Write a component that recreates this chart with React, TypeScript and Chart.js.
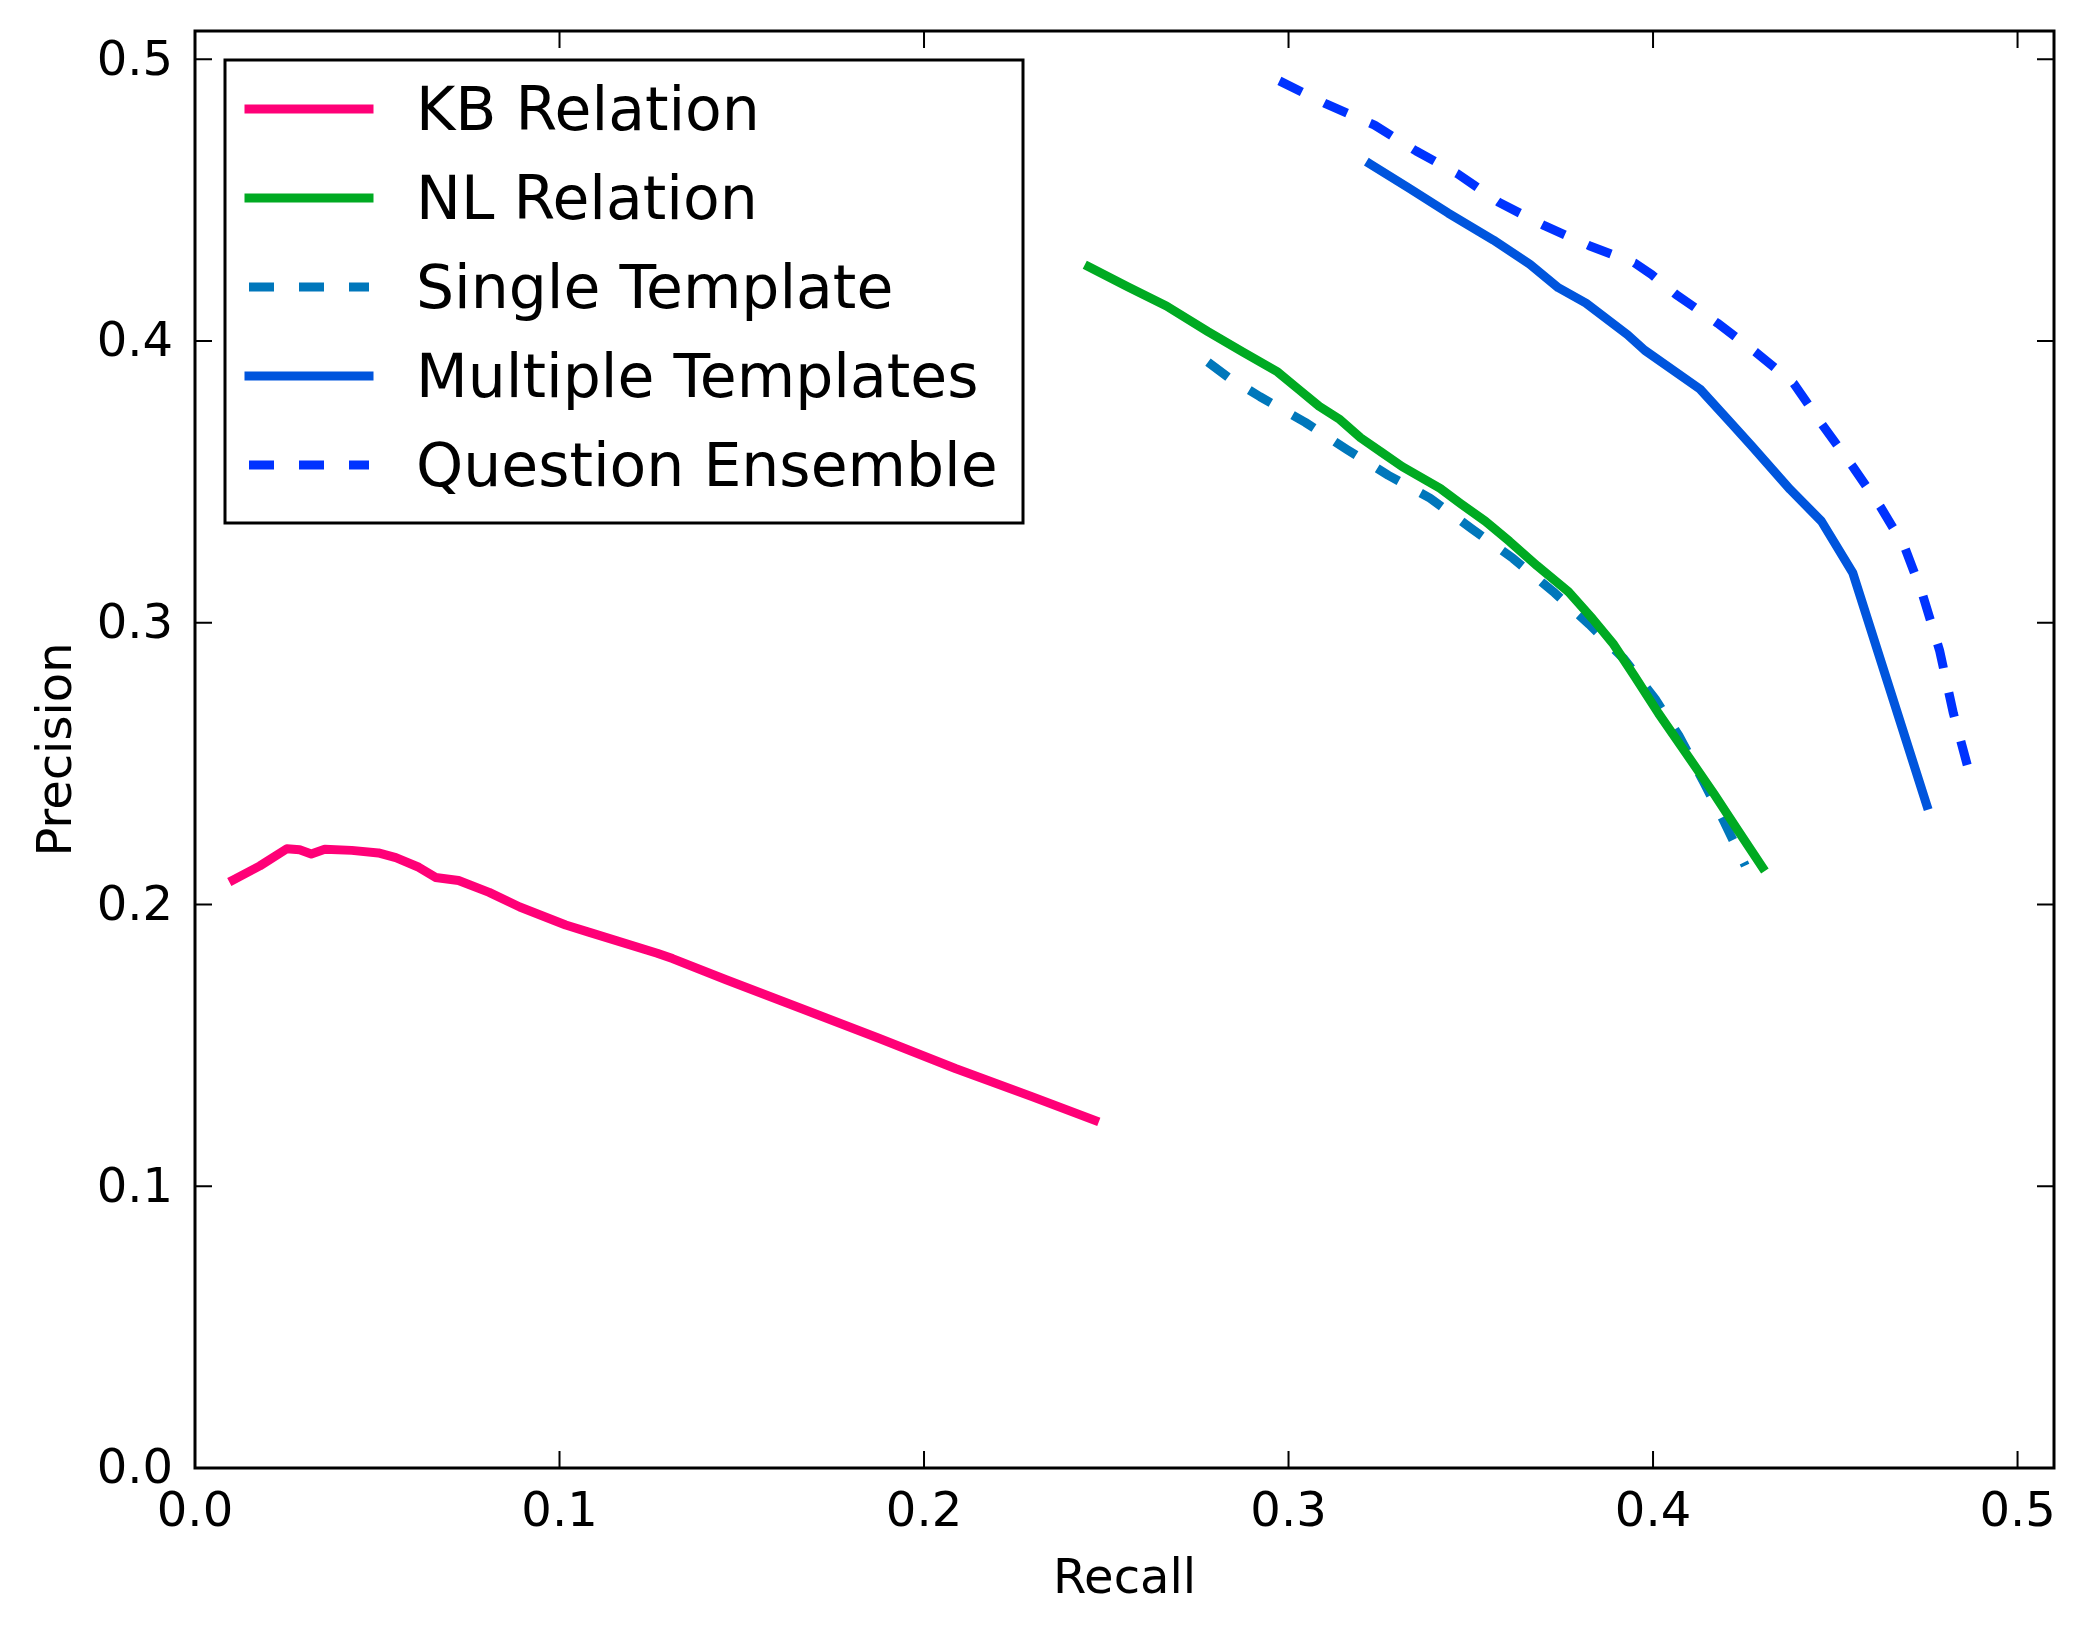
import React, { useEffect, useRef } from 'react';
import { Chart, registerables } from 'chart.js';

Chart.register(...registerables);

const FONT = '"DejaVu Sans", sans-serif';

// Recall / precision readings per model
const kbRecall = [0.0105, 0.0178, 0.0252, 0.0287, 0.0319, 0.0356, 0.043, 0.0503, 0.0551, 0.0614, 0.066, 0.0723, 0.0807, 0.0891, 0.1017, 0.108, 0.1268, 0.131, 0.1457, 0.1667, 0.1876, 0.2086, 0.2296, 0.2468];
const kbPrecision = [0.2087, 0.2137, 0.2198, 0.2194, 0.2179, 0.2196, 0.2192, 0.2183, 0.2166, 0.2132, 0.2096, 0.2085, 0.2043, 0.1991, 0.1927, 0.1902, 0.1827, 0.1808, 0.1733, 0.1629, 0.1525, 0.1418, 0.1318, 0.1234];

const nlRecall = [0.2452, 0.256, 0.2665, 0.2779, 0.2874, 0.297, 0.3027, 0.3084, 0.3141, 0.3198, 0.3255, 0.3312, 0.3416, 0.3473, 0.354, 0.3606, 0.3682, 0.3768, 0.3834, 0.3892, 0.3949, 0.4015, 0.4091, 0.4167, 0.4234, 0.43];
const nlPrecision = [0.4263, 0.4191, 0.4124, 0.4033, 0.3961, 0.389, 0.3829, 0.3768, 0.3721, 0.3656, 0.3605, 0.3554, 0.3477, 0.3422, 0.336, 0.3289, 0.3202, 0.311, 0.3014, 0.2923, 0.2811, 0.2678, 0.2536, 0.2393, 0.2261, 0.2132];

const singleRecall = [0.2779, 0.2836, 0.2922, 0.3046, 0.316, 0.3274, 0.3388, 0.3502, 0.3616, 0.373, 0.3825, 0.392, 0.4006, 0.4072, 0.4139, 0.4196, 0.4253];
const singlePrecision = [0.3925, 0.387, 0.3802, 0.3711, 0.3615, 0.3523, 0.3442, 0.3334, 0.3228, 0.3106, 0.2994, 0.2872, 0.2729, 0.2597, 0.2434, 0.2291, 0.2138];

const multiRecall = [0.3224, 0.3331, 0.3438, 0.3562, 0.3662, 0.374, 0.3816, 0.393, 0.3977, 0.4129, 0.4215, 0.4272, 0.4376, 0.4462, 0.4548, 0.4751];
const multiPrecision = [0.4628, 0.4542, 0.4454, 0.4358, 0.4272, 0.4189, 0.4134, 0.4022, 0.3967, 0.3829, 0.3707, 0.3625, 0.3473, 0.336, 0.3177, 0.2352];

const ensembleRecall = [0.2975, 0.3103, 0.3236, 0.335, 0.3464, 0.3578, 0.3702, 0.3825, 0.3949, 0.3996, 0.4063, 0.4177, 0.4281, 0.4386, 0.4462, 0.4548, 0.4624, 0.469, 0.4738, 0.4786, 0.4824, 0.4862];
const ensemblePrecision = [0.4923, 0.4841, 0.4766, 0.4674, 0.4593, 0.4491, 0.4409, 0.4338, 0.4277, 0.4236, 0.4165, 0.4063, 0.3961, 0.3849, 0.3707, 0.3554, 0.3411, 0.3269, 0.3106, 0.2902, 0.2678, 0.2495];

const seriesLabels = ['KB Relation', 'NL Relation', 'Single Template', 'Multiple Templates', 'Question Ensemble'];

const xTicks = [0, 0.1, 0.2, 0.3, 0.4, 0.5];
const xTickLabels = ['0.0', '0.1', '0.2', '0.3', '0.4', '0.5'];
const yTicks = [0, 0.1, 0.2, 0.3, 0.4, 0.5];
const yTickLabels = ['0.0', '0.1', '0.2', '0.3', '0.4', '0.5'];

const toPoints = (xs: number[], ys: number[]) => xs.map((x, i) => ({ x, y: ys[i] }));

// inward ticks on all four sides, the box frame and the legend inside the plot
const framePlugin = {
  id: 'mplFrame',
  afterDatasetsDraw(chart: any) {
    const { ctx, chartArea, scales } = chart;
    const { left, right, top, bottom } = chartArea;
    ctx.save();
    ctx.strokeStyle = '#000';
    ctx.lineWidth = 2;
    ctx.setLineDash([]);
    const tl = 17;
    ctx.beginPath();
    xTicks.forEach((v) => {
      const px = scales.x.getPixelForValue(v);
      ctx.moveTo(px, bottom);
      ctx.lineTo(px, bottom - tl);
      ctx.moveTo(px, top);
      ctx.lineTo(px, top + tl);
    });
    yTicks.forEach((v) => {
      const py = scales.y.getPixelForValue(v);
      ctx.moveTo(left, py);
      ctx.lineTo(left + tl, py);
      ctx.moveTo(right, py);
      ctx.lineTo(right - tl, py);
    });
    ctx.stroke();

    ctx.lineWidth = 3;
    ctx.strokeRect(left, top, right - left, bottom - top);

    // legend
    const bx = left + 30;
    const by = top + 29;
    ctx.fillStyle = '#fff';
    ctx.fillRect(bx, by, 798, 463);
    ctx.strokeRect(bx, by, 798, 463);
    ctx.font = `60px ${FONT}`;
    ctx.textBaseline = 'middle';
    ctx.textAlign = 'left';
    chart.data.datasets.forEach((ds: any, i: number) => {
      const ry = by + 49 + i * 89;
      const dash = ds.borderDash || [];
      ctx.strokeStyle = ds.borderColor;
      ctx.lineWidth = 9;
      ctx.setLineDash(dash);
      ctx.lineCap = dash.length ? 'butt' : 'square';
      ctx.beginPath();
      ctx.moveTo(bx + 24, ry);
      ctx.lineTo(bx + 144, ry);
      ctx.stroke();
      ctx.fillStyle = '#000';
      ctx.fillText(ds.label, bx + 191, ry + 5);
    });
    ctx.restore();
  },
};

export default function App() {
  const chartRef = useRef<HTMLCanvasElement>(null);
  const chartInstance = useRef<Chart | null>(null);

  useEffect(() => {
    if (!chartRef.current) return;
    if (chartInstance.current) chartInstance.current.destroy();
    const ctx = chartRef.current.getContext('2d');
    if (!ctx) return;

    const common = { pointRadius: 0, borderWidth: 9, tension: 0, fill: false, borderJoinStyle: 'round' as const };

    chartInstance.current = new Chart(ctx, {
      type: 'line',
      data: {
        datasets: [
          { ...common, label: seriesLabels[0], data: toPoints(kbRecall, kbPrecision), borderColor: '#ff0077', borderCapStyle: 'square' },
          { ...common, label: seriesLabels[1], data: toPoints(nlRecall, nlPrecision), borderColor: '#00aa22', borderCapStyle: 'square' },
          { ...common, label: seriesLabels[2], data: toPoints(singleRecall, singlePrecision), borderColor: '#0077bb', borderDash: [25, 25] },
          { ...common, label: seriesLabels[3], data: toPoints(multiRecall, multiPrecision), borderColor: '#0055dd', borderCapStyle: 'square' },
          { ...common, label: seriesLabels[4], data: toPoints(ensembleRecall, ensemblePrecision), borderColor: '#0033ff', borderDash: [25, 25] },
        ],
      },
      options: {
        responsive: false,
        animation: false,
        layout: { padding: { top: 31, right: 34, left: 0, bottom: 0 } },
        plugins: {
          legend: { display: false },
          tooltip: { enabled: false },
        },
        scales: {
          x: {
            type: 'linear',
            min: 0,
            max: 0.51,
            grid: { display: false },
            border: { display: false },
            afterBuildTicks: (scale: any) => {
              scale.ticks = xTicks.map((value) => ({ value }));
            },
            afterFit: (scale: any) => {
              scale.height = 165;
              scale.paddingLeft = 0;
              scale.paddingRight = 0;
              scale.paddingTop = 0;
              scale.paddingBottom = 0;
            },
            ticks: {
              padding: 9,
              color: '#000',
              font: { family: FONT, size: 48 },
              maxRotation: 0,
              autoSkip: false,
              callback: (_v: any, i: number) => xTickLabels[i],
            },
            title: {
              display: true,
              text: 'Recall',
              color: '#000',
              font: { family: FONT, size: 48 },
              padding: { top: 0, bottom: 24 },
            },
          },
          y: {
            type: 'linear',
            min: 0,
            max: 0.51,
            grid: { display: false },
            border: { display: false },
            afterBuildTicks: (scale: any) => {
              scale.ticks = yTicks.map((value) => ({ value }));
            },
            afterFit: (scale: any) => {
              scale.width = 195;
              scale.paddingLeft = 0;
              scale.paddingRight = 0;
              scale.paddingTop = 0;
              scale.paddingBottom = 0;
            },
            ticks: {
              padding: 14,
              labelOffset: 3,
              color: '#000',
              font: { family: FONT, size: 48 },
              autoSkip: false,
              callback: (_v: any, i: number) => yTickLabels[i],
            },
            title: {
              display: true,
              text: 'Precision',
              color: '#000',
              font: { family: FONT, size: 48 },
              padding: { top: 30, bottom: 0 },
            },
          },
        },
      },
      plugins: [framePlugin],
    } as any);

    return () => {
      if (chartInstance.current) {
        chartInstance.current.destroy();
        chartInstance.current = null;
      }
    };
  }, []);

  return (
    <div style={{ position: 'absolute', left: 0, top: 0, width: '2088px', height: '1633px', background: '#fff' }}>
      <canvas ref={chartRef} width={2088} height={1633}></canvas>
    </div>
  );
}
